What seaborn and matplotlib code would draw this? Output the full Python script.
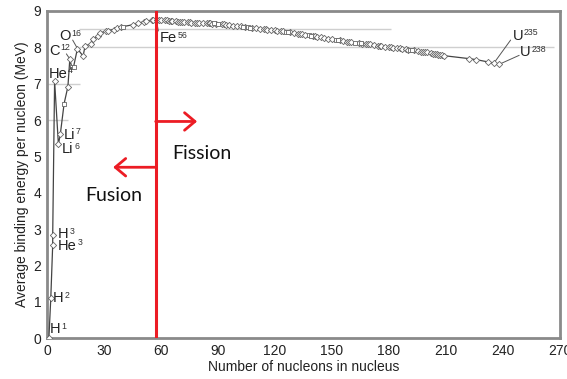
import matplotlib
matplotlib.use("Agg")
import matplotlib.pyplot as plt
import seaborn as sns
import pandas as pd

# Average binding energy per nucleon (MeV) of common nuclides
mass_number = [1, 2, 3, 3, 4, 6, 7, 9, 11, 12, 13, 14, 16, 19, 20,
               23, 24, 27, 28, 31, 32, 35, 37, 39, 40, 45, 48, 51, 52, 55,
               56, 58, 59, 60, 62, 63, 64, 65, 66, 68, 69, 70, 71, 72, 74,
               75, 76, 78, 79, 80, 82, 84, 85, 86, 87, 88, 89, 90, 92, 93,
               94, 96, 98, 100, 102, 103, 104, 106, 107, 108, 110, 112, 114, 115, 116,
               118, 120, 121, 123, 124, 126, 127, 128, 130, 132, 133, 134, 136, 138, 139,
               140, 141, 142, 144, 146, 148, 150, 152, 153, 154, 156, 158, 159, 160, 162,
               164, 165, 166, 168, 169, 170, 172, 174, 175, 176, 178, 180, 181, 182, 184,
               186, 187, 189, 190, 191, 192, 193, 195, 197, 198, 199, 200, 202, 203, 204,
               205, 206, 207, 208, 209, 222, 226, 232, 235, 238]
binding_energy = [0.0, 1.11, 2.57, 2.83, 7.07, 5.33, 5.61, 6.45, 6.92, 7.67, 7.46, 7.47, 7.96, 7.76, 8.03,
                  8.10, 8.22, 8.30, 8.40, 8.44, 8.46, 8.49, 8.53, 8.55, 8.57, 8.62, 8.67, 8.70, 8.72, 8.74,
                  8.76, 8.74, 8.75, 8.76, 8.76, 8.74, 8.73, 8.73, 8.73, 8.72, 8.71, 8.71, 8.70, 8.70, 8.69,
                  8.69, 8.68, 8.67, 8.67, 8.67, 8.66, 8.66, 8.66, 8.66, 8.65, 8.66, 8.65, 8.65, 8.63, 8.63,
                  8.62, 8.61, 8.60, 8.59, 8.58, 8.57, 8.57, 8.55, 8.54, 8.54, 8.53, 8.51, 8.51, 8.50, 8.49,
                  8.49, 8.47, 8.46, 8.45, 8.44, 8.42, 8.42, 8.41, 8.40, 8.38, 8.37, 8.36, 8.35, 8.34, 8.32,
                  8.32, 8.31, 8.29, 8.28, 8.26, 8.24, 8.22, 8.20, 8.19, 8.19, 8.17, 8.16, 8.15, 8.14, 8.13,
                  8.11, 8.11, 8.10, 8.09, 8.08, 8.08, 8.06, 8.05, 8.04, 8.03, 8.02, 8.01, 8.00, 7.99, 7.98,
                  7.97, 7.96, 7.95, 7.94, 7.93, 7.92, 7.92, 7.90, 7.88, 7.87, 7.87, 7.86, 7.84, 7.83, 7.82,
                  7.81, 7.80, 7.79, 7.78, 7.77, 7.69, 7.66, 7.60, 7.57, 7.53]
square_nuclei = [9, 13, 14, 40, 88, 90, 103, 106, 107, 126, 127, 138, 139, 152, 153, 162, 165, 191, 192]

nuclide_symbols = ["H", "H", "H", "He", "He", "Li", "Li", "C", "O", "Fe", "U", "U"]
nuclide_masses = ["1", "2", "3", "3", "4", "7", "6", "12", "16", "56", "235", "238"]
boundary_mass = 57.2

df = pd.DataFrame({"A": mass_number, "BE": binding_energy})
df["square"] = df["A"].isin(square_nuclei)

sns.set_style("white")
plt.rcParams["font.family"] = ["Liberation Sans", "DejaVu Sans"]

fig = plt.figure(figsize=(5.67, 3.79), dpi=100)
ax = fig.add_axes([0.0829, 0.108, 0.9048, 0.863])

grid_col = "#cfcfcf"
# partial guide lines
ax.hlines(8.0, 17, 267, color=grid_col, lw=1, zorder=1)
ax.hlines(8.5, 17, 181, color=grid_col, lw=1, zorder=1)
ax.hlines(7.0, 0, 17.5, color=grid_col, lw=1, zorder=1)
ax.hlines(6.0, 0, 11, color=grid_col, lw=1, zorder=1)

sns.lineplot(data=df, x="A", y="BE", sort=False, estimator=None, color="#444444",
             lw=0.9, ax=ax, zorder=3)
sns.scatterplot(data=df[~df["square"]], x="A", y="BE", marker="D", s=10, color="white",
                edgecolor="#666666", linewidth=0.6, ax=ax, zorder=4)
sns.scatterplot(data=df[df["square"]], x="A", y="BE", marker="s", s=11, color="white",
                edgecolor="#666666", linewidth=0.6, ax=ax, zorder=4)

# fusion / fission boundary
red = "#ec1c24"
ax.axvline(boundary_mass, color=red, lw=2.2, zorder=6)
arrow_kw = dict(arrowstyle="->,head_length=0.5,head_width=0.42", color=red, lw=2,
                shrinkA=0, shrinkB=0, mutation_scale=15)
ax.annotate("", xy=(79, 5.96), xytext=(boundary_mass, 5.96), arrowprops=arrow_kw, zorder=6)
ax.annotate("", xy=(34.8, 4.70), xytext=(boundary_mass, 4.70), arrowprops=arrow_kw, zorder=6)
ax.text(81.5, 5.08, "Fission", family=["Lato", "DejaVu Sans"], fontsize=14, color="#111111",
        ha="center", va="center")
ax.text(35, 3.93, "Fusion", family=["Lato", "DejaVu Sans"], fontsize=14, color="#111111",
        ha="center", va="center")

# nuclide labels, mass number as a small superscript
label_pos = [(1.6, 0.24), (3.2, 1.1), (5.8, 2.86), (5.8, 2.54), (0.7, 7.27), (8.6, 5.6), (7.8, 5.2),
             (1.0, 7.9), (6.3, 8.3), (59.5, 8.25), (245, 8.32), (249, 7.86)]
for sym, mass, (lx, ly) in zip(nuclide_symbols, nuclide_masses, label_pos):
    base = ax.text(lx, ly, sym, fontsize=10.5, color="#222222", ha="left", va="center", zorder=5)
    ax.annotate(mass, xy=(1, 1), xycoords=base, xytext=(0.6, 0.4), textcoords="offset points",
                fontsize=6.3, color="#333333", ha="left", va="top", zorder=5)

lead_col = "#555555"
ax.plot([10.2, 12], [7.82, 7.68], color=lead_col, lw=0.7)
ax.plot([13.5, 16], [8.2, 7.97], color=lead_col, lw=0.7)
ax.plot([57.6, 58.6], [8.74, 8.45], color=lead_col, lw=0.7)
ax.plot([244, 235.4], [8.2, 7.58], color=lead_col, lw=0.7)
ax.plot([248.5, 238.3], [7.78, 7.54], color=lead_col, lw=0.7)

ax.set_xlim(0, 270)
ax.set_ylim(0, 9)
ax.set_xticks(range(0, 271, 30))
ax.set_yticks(range(0, 10))
ax.tick_params(direction="in", length=7, width=1, color=grid_col, labelsize=10,
               labelcolor="#222222", pad=4)
for side in ["left", "bottom", "top", "right"]:
    ax.spines[side].set_color("#8a8a8a")
    ax.spines[side].set_linewidth(2)
ax.set_xlabel("Number of nucleons in nucleus", fontsize=10, color="#222222", labelpad=2)
ax.set_ylabel("Average binding energy per nucleon (MeV)", fontsize=10, color="#222222", labelpad=3)

fig.savefig("out.png", dpi=100)
